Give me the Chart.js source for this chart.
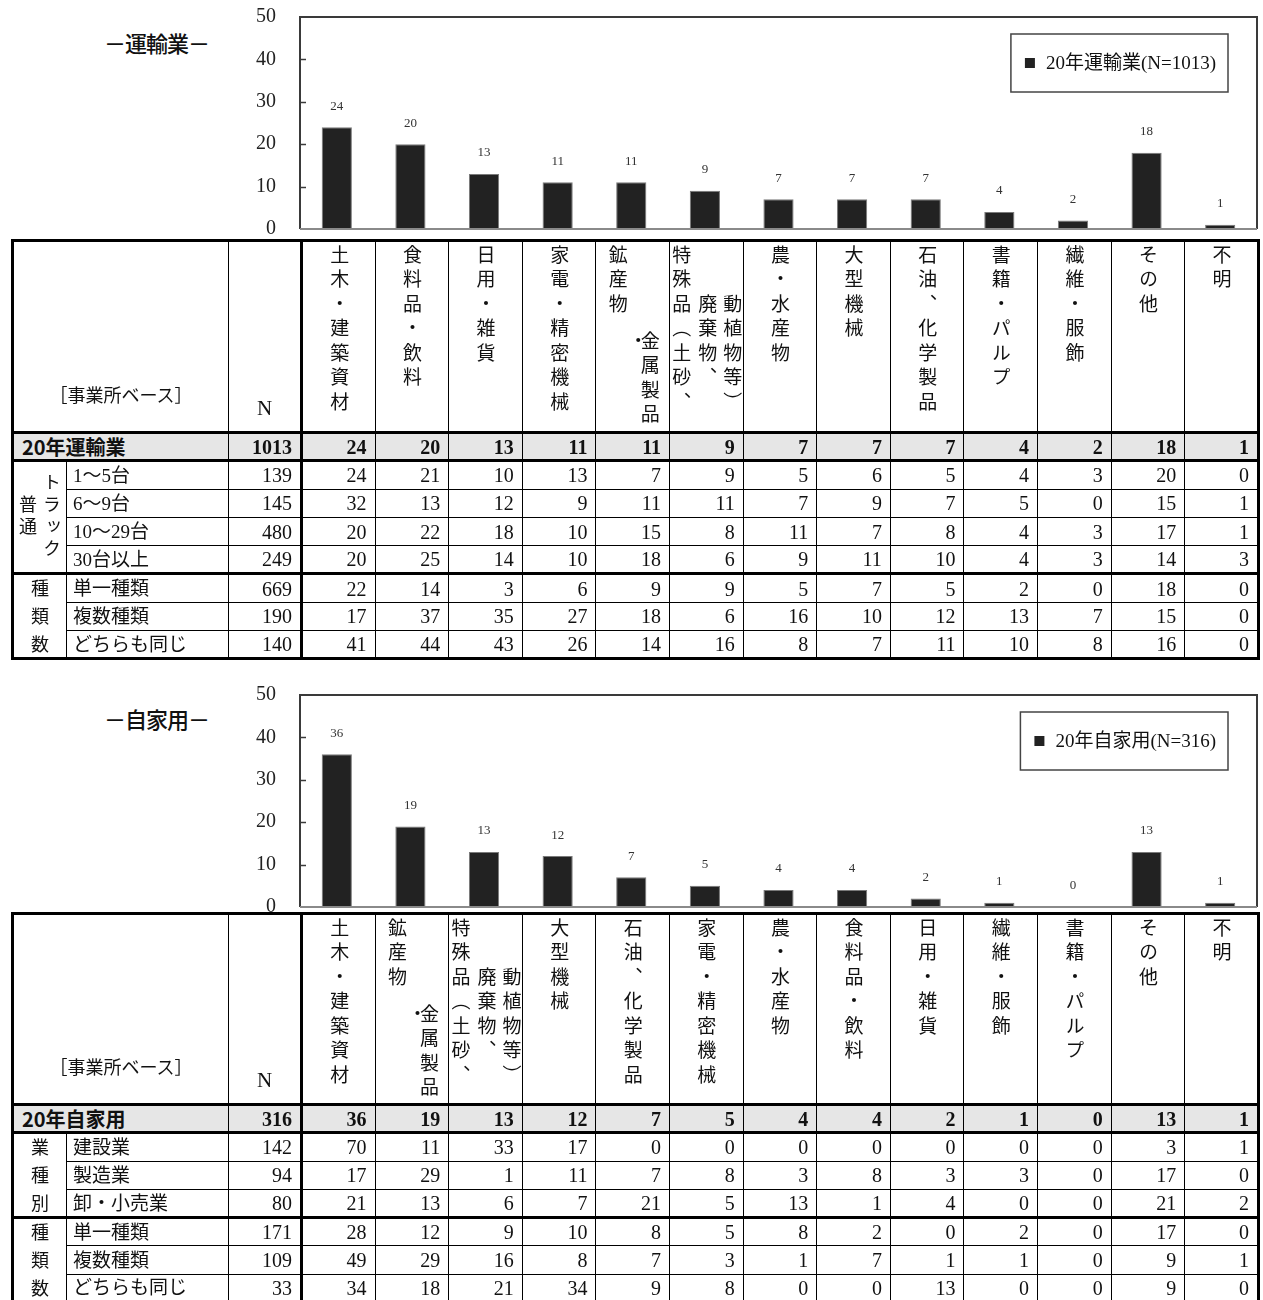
<!DOCTYPE html>
<html lang="ja"><head><meta charset="utf-8">
<script src="https://cdn.jsdelivr.net/npm/chart.js@4.4.1/dist/chart.umd.min.js"></script>
<style>
html,body{margin:0;padding:0;background:#fff;width:1263px;height:1300px;overflow:hidden;position:relative;}
canvas.ch{position:absolute;left:0;}
.ttl{position:absolute;left:104px;font-family:"Noto Sans CJK JP";font-size:22px;line-height:28px;color:#111;white-space:nowrap;font-weight:500;letter-spacing:-1px;}
table.tb{position:absolute;left:11px;width:1247px;border-collapse:collapse;table-layout:fixed;border:3px solid #000;}
table.tb td{border:1px solid #000;padding:0;overflow:hidden;font-family:"Liberation Serif","Noto Sans CJK JP";font-size:20px;color:#111;line-height:1;white-space:nowrap;}
table.tb td.num{text-align:right;padding-right:8px;}
table.tb td.lbl{text-align:left;padding-left:6px;font-size:19px;}
table.tb tr.tot td{background:#e6e6e6;font-weight:bold;}
table.tb tr.tot td.tl{font-family:"Noto Sans CJK JP";font-size:20px;padding-left:8px;text-align:left;}
table.tb td.tb3{border-bottom:3px solid #000;}
table.tb td.nsep{border-right:3px solid #000;}
table.tb td.gcell{position:relative;}
.hcell{position:relative;}
.hcol{position:absolute;writing-mode:vertical-rl;font-family:"Noto Sans CJK JP";font-size:19px;line-height:19px;letter-spacing:5.5px;white-space:nowrap;color:#111;}
.hbase{position:absolute;left:0;right:0;bottom:28px;text-align:center;font-family:"Noto Sans CJK JP";font-size:18px;color:#111;}
.hn{position:absolute;left:0;right:0;bottom:12px;text-align:center;font-family:"Liberation Serif";font-size:21px;}
.grp{position:absolute;left:0;top:0;right:0;bottom:0;display:flex;justify-content:center;align-items:center;}
.gv{writing-mode:vertical-rl;font-family:"Noto Sans CJK JP";font-size:18px;line-height:22px;text-align:center;color:#111;}
</style>
</head>
<body>
<div class="ttl" style="top:28px">－運輸業－</div>
<canvas id="c1" class="ch" width="1263" height="240" style="top:0px"></canvas>
<div class="ttl" style="top:704px">－自家用－</div>
<canvas id="c2" class="ch" width="1263" height="240" style="top:678px"></canvas>
<script>
// ---------- DATA: 運輸業 ----------
const transportCategories = ['土木・建築資材','食料品・飲料','日用・雑貨','家電・精密機械','鉱産物・金属製品','特殊品（土砂、廃棄物、動植物等）','農・水産物','大型機械','石油、化学製品','書籍・パルプ','繊維・服飾','その他','不明'];
const transportSeriesName = '20年運輸業';
const transportN = 1013;
const transportShares = [24,20,13,11,11,9,7,7,7,4,2,18,1];
const transportGroupA = '普通トラック';
const transportGroupARows = ['1〜5台','6〜9台','10〜29台','30台以上'];
const transportGroupAN = [139,145,480,249];
const transportGroupAValues = [
  [24,21,10,13,7,9,5,6,5,4,3,20,0],
  [32,13,12,9,11,11,7,9,7,5,0,15,1],
  [20,22,18,10,15,8,11,7,8,4,3,17,1],
  [20,25,14,10,18,6,9,11,10,4,3,14,3]
];
const transportGroupB = '種類数';
const transportGroupBRows = ['単一種類','複数種類','どちらも同じ'];
const transportGroupBN = [669,190,140];
const transportGroupBValues = [
  [22,14,3,6,9,9,5,7,5,2,0,18,0],
  [17,37,35,27,18,6,16,10,12,13,7,15,0],
  [41,44,43,26,14,16,8,7,11,10,8,16,0]
];

// ---------- DATA: 自家用 ----------
const privateCategories = ['土木・建築資材','鉱産物・金属製品','特殊品（土砂、廃棄物、動植物等）','大型機械','石油、化学製品','家電・精密機械','農・水産物','食料品・飲料','日用・雑貨','繊維・服飾','書籍・パルプ','その他','不明'];
const privateSeriesName = '20年自家用';
const privateN = 316;
const privateShares = [36,19,13,12,7,5,4,4,2,1,0,13,1];
const privateGroupA = '業種別';
const privateGroupARows = ['建設業','製造業','卸・小売業'];
const privateGroupAN = [142,94,80];
const privateGroupAValues = [
  [70,11,33,17,0,0,0,0,0,0,0,3,1],
  [17,29,1,11,7,8,3,8,3,3,0,17,0],
  [21,13,6,7,21,5,13,1,4,0,0,21,2]
];
const privateGroupB = '種類数';
const privateGroupBRows = ['単一種類','複数種類','どちらも同じ'];
const privateGroupBN = [171,109,33];
const privateGroupBValues = [
  [28,12,9,10,8,5,8,2,0,2,0,17,0],
  [49,29,16,8,7,3,1,7,1,1,0,9,1],
  [34,18,21,34,9,8,0,0,13,0,0,9,0]
];
const baseLabel = '［事業所ベース］';

// ---------- display helpers (style only) ----------
const HEADER_LAYOUT = {
  '鉱産物・金属製品': [[-15,0,'鉱産物'],[5,3.5,'・'],[17,3.5,'金属製品']],
  '特殊品（土砂、廃棄物、動植物等）': [[-25,0,'特殊品（土砂、'],[1,2,'廃棄物、'],[26,2,'動植物等）']]
};
const GROUP_DISPLAY = {'普通トラック':'トラック<br>普通'};
const COLW = [54,162,73];
const DATAW = 957/13;
const ROWH = 28.3;

function headerHTML(name, hh){
  const cols = HEADER_LAYOUT[name] || [[0,0,name]];
  const cw = DATAW;
  return `<div class="hcell" style="height:${hh}px">` + cols.map(([dx,row,txt]) =>
    `<div class="hcol" style="left:${(cw/2+dx-9.5).toFixed(1)}px;top:${(3+row*24.5).toFixed(1)}px">${txt}</div>`).join('') + '</div>';
}
function groupHTML(name){
  const disp = GROUP_DISPLAY[name];
  if (disp) return `<div class="grp"><div class="gv" style="letter-spacing:4px;line-height:24px">${disp}</div></div>`;
  const ls = ROWH - 18;
  return `<div class="grp"><div class="gv" style="letter-spacing:${ls.toFixed(1)}px;margin-top:${ls.toFixed(1)}px">${name}</div></div>`;
}
function buildTable(top, hh, cats, totalLabel, totalN, totalVals, groups){
  let h = `<table class="tb" style="top:${top}px"><colgroup>`;
  COLW.forEach(w=> h += `<col style="width:${w}px">`);
  cats.forEach(()=> h += `<col style="width:${DATAW.toFixed(3)}px">`);
  h += '</colgroup>';
  h += `<tr style="height:${hh}px"><td colspan="2" class="tb3"><div class="hcell" style="height:${hh}px"><div class="hbase">${baseLabel}</div></div></td>`;
  h += `<td class="tb3 nsep"><div class="hcell" style="height:${hh}px"><div class="hn">N</div></div></td>`;
  cats.forEach(c => h += `<td class="tb3" style="vertical-align:top">${headerHTML(c, hh)}</td>`);
  h += '</tr>';
  h += `<tr class="tot" style="height:${ROWH}px"><td colspan="2" class="tl tb3">${totalLabel}</td><td class="num tb3 nsep">${totalN}</td>`;
  totalVals.forEach(v => h += `<td class="num tb3">${v}</td>`);
  h += '</tr>';
  groups.forEach((g, gi) => {
    g.rows.forEach((r, ri) => {
      const last = ri === g.rows.length-1 && gi < groups.length-1;
      const cls = last ? ' tb3' : '';
      h += `<tr style="height:${ROWH}px">`;
      if (ri === 0) h += `<td rowspan="${g.rows.length}" class="gcell${gi < groups.length-1 ? ' tb3' : ''}">${groupHTML(g.name)}</td>`;
      h += `<td class="lbl${cls}">${r}</td><td class="num nsep${cls}">${g.n[ri]}</td>`;
      g.vals[ri].forEach(v => h += `<td class="num${cls}">${v}</td>`);
      h += '</tr>';
    });
  });
  h += '</table>';
  document.body.insertAdjacentHTML('beforeend', h);
}

buildTable(239, 189, transportCategories, transportSeriesName, transportN, transportShares, [
  {name: transportGroupA, rows: transportGroupARows, n: transportGroupAN, vals: transportGroupAValues},
  {name: transportGroupB, rows: transportGroupBRows, n: transportGroupBN, vals: transportGroupBValues}
]);
buildTable(912, 188, privateCategories, privateSeriesName, privateN, privateShares, [
  {name: privateGroupA, rows: privateGroupARows, n: privateGroupAN, vals: privateGroupAValues},
  {name: privateGroupB, rows: privateGroupBRows, n: privateGroupBN, vals: privateGroupBValues}
]);

// ---------- chart plugins ----------
const framePlugin = {
  id: 'frame',
  afterDraw(c){
    const {ctx, chartArea: a} = c;
    ctx.save();
    ctx.lineWidth = 2; ctx.strokeStyle = '#3a3a3a';
    ctx.beginPath(); ctx.moveTo(a.left, a.bottom); ctx.lineTo(a.left, a.top); ctx.lineTo(a.right, a.top); ctx.lineTo(a.right, a.bottom); ctx.stroke();
    ctx.strokeStyle = '#8a8a8a';
    ctx.beginPath(); ctx.moveTo(a.left, a.bottom); ctx.lineTo(a.right, a.bottom); ctx.stroke();
    const y = c.scales.y;
    ctx.strokeStyle = '#3a3a3a'; ctx.lineWidth = 1.5;
    y.ticks.forEach(t => {
      if (t.value > y.min && t.value < y.max) {
        const py = Math.round(y.getPixelForValue(t.value)) + 0.5;
        ctx.beginPath(); ctx.moveTo(a.left, py); ctx.lineTo(a.left + 6, py); ctx.stroke();
      }
    });
    ctx.restore();
  }
};
const valueLabelPlugin = {
  id: 'valueLabels',
  afterDatasetsDraw(c){
    const {ctx} = c;
    const meta = c.getDatasetMeta(0);
    const data = c.data.datasets[0].data;
    ctx.save();
    ctx.font = '13px "Liberation Serif"';
    ctx.fillStyle = '#333'; ctx.textAlign = 'center'; ctx.textBaseline = 'middle';
    meta.data.forEach((bar, i) => ctx.fillText(String(data[i]), bar.x, bar.y - 21));
    ctx.restore();
  }
};
const legendBoxPlugin = {
  id: 'legendBox',
  afterDraw(c){
    const {ctx, chartArea: a} = c;
    const label = c.data.datasets[0].label;
    ctx.save();
    ctx.font = '19px "Liberation Serif","Noto Sans CJK JP"';
    const tw = ctx.measureText(label).width;
    const w = 14 + 10 + 11 + tw + 12;
    const h = 58;
    const x = a.right - 29 - w;
    const y = a.top + 17;
    ctx.fillStyle = '#fff'; ctx.fillRect(x, y, w, h);
    ctx.lineWidth = 1.5; ctx.strokeStyle = '#444';
    ctx.strokeRect(x, y, w, h);
    ctx.fillStyle = '#222';
    ctx.fillRect(x + 14, y + h/2 - 5, 10, 10);
    ctx.fillStyle = '#111'; ctx.textBaseline = 'middle'; ctx.textAlign = 'left';
    ctx.fillText(label, x + 35, y + h/2 + 1);
    ctx.restore();
  }
};

function makeChart(id, labels, values, seriesName, n){
  return new Chart(document.getElementById(id), {
    type: 'bar',
    data: {
      labels: labels,
      datasets: [{
        label: `${seriesName}(N=${n})`,
        data: values,
        backgroundColor: '#222',
        borderColor: '#7a7a7a',
        borderWidth: 1,
        barPercentage: 0.41,
        categoryPercentage: 1
      }]
    },
    options: {
      responsive: false,
      animation: false,
      devicePixelRatio: 1,
      layout: {padding: {top: 17, bottom: 11, left: 0, right: 6}},
      plugins: {legend: {display: false}, tooltip: {enabled: false}},
      scales: {
        x: {display: false},
        y: {
          min: 0, max: 50,
          ticks: {stepSize: 10, padding: 24, color: '#222', font: {family: 'Liberation Serif', size: 20}},
          grid: {display: false, drawTicks: false},
          border: {display: false},
          afterFit(s){ s.width = 300; s.paddingTop = 0; s.paddingBottom = 0; }
        }
      }
    },
    plugins: [framePlugin, valueLabelPlugin, legendBoxPlugin]
  });
}
makeChart('c1', transportCategories, transportShares, transportSeriesName, transportN);
makeChart('c2', privateCategories, privateShares, privateSeriesName, privateN);
</script>
</body></html>
